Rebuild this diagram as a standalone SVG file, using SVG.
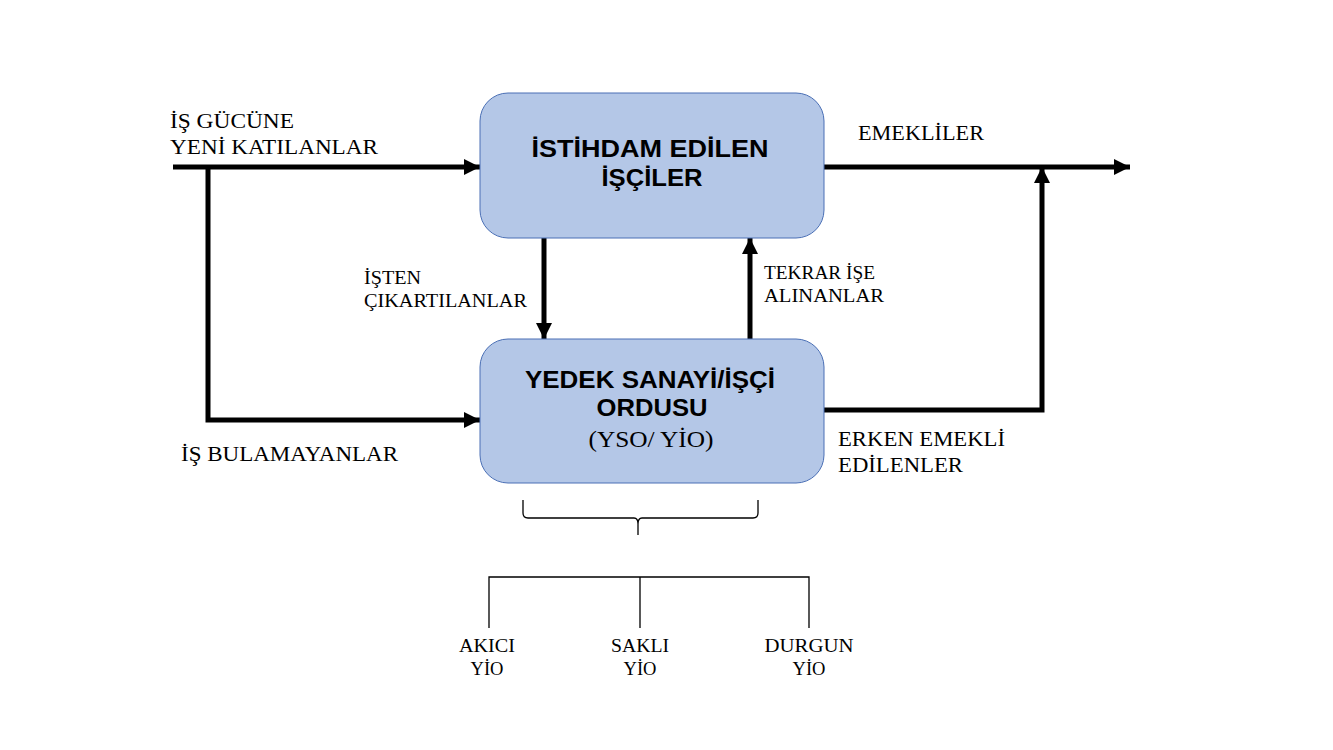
<svg xmlns="http://www.w3.org/2000/svg" width="1333" height="750" viewBox="0 0 1333 750">
<style>
.box{fill:#b4c7e7;stroke:#4a6fb5;stroke-width:1}
.ttl{font-family:"Liberation Sans",Arial,sans-serif;font-weight:bold;font-size:23px;fill:#000;text-anchor:middle}
.lbl{font-family:"Liberation Serif","Times New Roman",serif;font-size:21px;fill:#000}
.sm{font-family:"Liberation Serif","Times New Roman",serif;font-size:19px;fill:#000}
.flow{fill:none;stroke:#000;stroke-width:5}
.thin{fill:none;stroke:#000;stroke-width:1.3}
</style>
<defs>
<marker id="ah" viewBox="0 0 10 10" refX="10" refY="5" markerWidth="3.2" markerHeight="3.2" markerUnits="strokeWidth" orient="auto">
<path d="M0,0 L10,5 L0,10 z" fill="#000"/>
</marker>
</defs>
<rect width="1333" height="750" fill="#fff"/>
<g id="connectors">
<line class="flow" x1="173" y1="167" x2="480" y2="167" marker-end="url(#ah)"/>
<polyline class="flow" points="208,167 208,420 480,420" marker-end="url(#ah)"/>
<line class="flow" x1="824" y1="167" x2="1130" y2="167" marker-end="url(#ah)"/>
<polyline class="flow" points="824,410 1042,410 1042,167" marker-end="url(#ah)"/>
<line class="flow" x1="544" y1="238" x2="544" y2="339" marker-end="url(#ah)"/>
<line class="flow" x1="750" y1="339" x2="750" y2="238" marker-end="url(#ah)"/>
</g>
<g id="employed">
<rect class="box" x="480" y="93" width="344" height="145" rx="28"/>
<text class="ttl" x="650" y="157" textLength="237" lengthAdjust="spacingAndGlyphs">İSTİHDAM EDİLEN</text>
<text class="ttl" x="652" y="186" textLength="101" lengthAdjust="spacingAndGlyphs">İŞÇİLER</text>
</g>
<g id="reserve">
<rect class="box" x="480" y="339" width="344" height="144" rx="28"/>
<text class="ttl" x="650" y="388" textLength="250" lengthAdjust="spacingAndGlyphs">YEDEK SANAYİ/İŞÇİ</text>
<text class="ttl" x="652" y="416" textLength="111" lengthAdjust="spacingAndGlyphs">ORDUSU</text>
<text class="lbl" x="651" y="447" text-anchor="middle" style="font-size:23px" textLength="125" lengthAdjust="spacingAndGlyphs">(YSO/ YİO)</text>
</g>
<g id="labels">
<text class="lbl" x="170" y="128" textLength="124" lengthAdjust="spacingAndGlyphs">İŞ GÜCÜNE</text>
<text class="lbl" x="170" y="154" textLength="208" lengthAdjust="spacingAndGlyphs">YENİ KATILANLAR</text>
<text class="lbl" x="858" y="140" textLength="126" lengthAdjust="spacingAndGlyphs">EMEKLİLER</text>
<text class="sm" x="364" y="284" textLength="57" lengthAdjust="spacingAndGlyphs">İŞTEN</text>
<text class="sm" x="364" y="307" textLength="163" lengthAdjust="spacingAndGlyphs">ÇIKARTILANLAR</text>
<text class="sm" x="764" y="279" textLength="111" lengthAdjust="spacingAndGlyphs">TEKRAR İŞE</text>
<text class="sm" x="764" y="302" textLength="120" lengthAdjust="spacingAndGlyphs">ALINANLAR</text>
<text class="lbl" x="181" y="461" textLength="217" lengthAdjust="spacingAndGlyphs">İŞ BULAMAYANLAR</text>
<text class="lbl" x="838" y="446" textLength="167" lengthAdjust="spacingAndGlyphs">ERKEN EMEKLİ</text>
<text class="lbl" x="838" y="472" textLength="125" lengthAdjust="spacingAndGlyphs">EDİLENLER</text>
</g>
<g id="brace">
<path class="thin" d="M523,500 L523,513 Q523,518 528,518 L634,518 Q638,518 638,524 L638,535 M638,524 Q638,518 642,518 L753,518 Q758,518 758,513 L758,500"/>
</g>
<g id="tree">
<path class="thin" d="M489,628 L489,577 L809,577 L809,628 M640,577 L640,628"/>
</g>
<g id="akici">
<text class="sm" x="487" y="652" text-anchor="middle" textLength="56" lengthAdjust="spacingAndGlyphs">AKICI</text>
<text class="sm" x="487" y="675" text-anchor="middle" textLength="33" lengthAdjust="spacingAndGlyphs">YİO</text>
</g>
<g id="sakli">
<text class="sm" x="640" y="652" text-anchor="middle" textLength="58" lengthAdjust="spacingAndGlyphs">SAKLI</text>
<text class="sm" x="640" y="675" text-anchor="middle" textLength="33" lengthAdjust="spacingAndGlyphs">YİO</text>
</g>
<g id="durgun">
<text class="sm" x="809" y="652" text-anchor="middle" textLength="89" lengthAdjust="spacingAndGlyphs">DURGUN</text>
<text class="sm" x="809" y="675" text-anchor="middle" textLength="33" lengthAdjust="spacingAndGlyphs">YİO</text>
</g>
</svg>
